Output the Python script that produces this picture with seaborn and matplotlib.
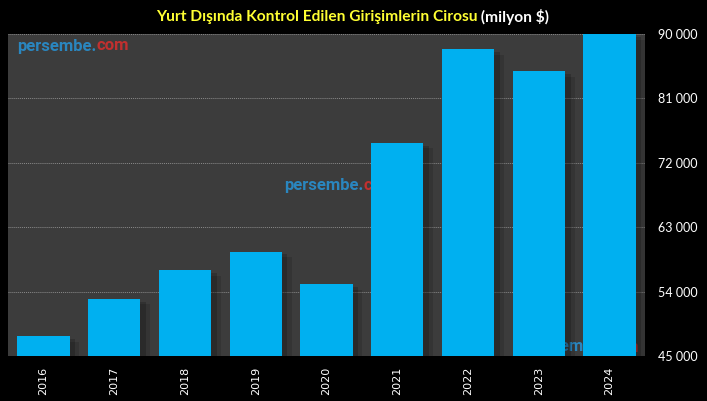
import pandas as pd
import matplotlib.pyplot as plt
import matplotlib.patheffects as pe
import seaborn as sns

years = ["2016", "2017", "2018", "2019", "2020", "2021", "2022", "2023", "2024"]
turnover = [47800, 53000, 57000, 59600, 55000, 74800, 87900, 84800, 90000]
y_ticks = [45000, 54000, 63000, 72000, 81000, 90000]

title_main = "Yurt Dışında Kontrol Edilen Girişimlerin Cirosu"
title_unit = " (milyon $)"

df = pd.DataFrame({"Yıl": years, "Ciro": turnover})

sns.set_style("dark")
plt.rcParams["font.family"] = ["DejaVu Sans"]

fig = plt.figure(figsize=(7.07, 4.01), dpi=100, facecolor="black")
ax = fig.add_axes([8 / 707, 45 / 401, 637 / 707, 322 / 401])
ax.set_facecolor("#3c3c3c")

ax = sns.barplot(data=df, x="Yıl", y="Ciro", color="#00b0f0", saturation=1,
                 width=0.74, ax=ax, zorder=3, edgecolor="none", linewidth=0)
# soft drop shadow to the right of each bar
shadow = [pe.SimplePatchShadow(offset=(7, -4), shadow_rgbFace="black", alpha=0.12),
          pe.SimplePatchShadow(offset=(4, -2), shadow_rgbFace="black", alpha=0.18),
          pe.Normal()]
for bar in ax.patches:
    bar.set_path_effects(shadow)

ax.set_ylim(45000, 90000)
ax.set_yticks(y_ticks)
ax.set_yticklabels([f"{v:,.0f}".replace(",", " ") for v in y_ticks],
                   family=["Lato", "DejaVu Sans"])
ax.yaxis.tick_right()
ax.tick_params(axis="y", colors="white", labelsize=9, length=0, pad=9)
ax.tick_params(axis="x", colors="white", labelsize=8, length=0, rotation=90, pad=8)
ax.grid(axis="y", color="#8a8a8a", linestyle=(0, (1, 1)), linewidth=0.7, zorder=1)
ax.grid(axis="x", visible=False)
ax.set_xlabel("")
ax.set_ylabel("")
for s in ax.spines.values():
    s.set_visible(False)

wm_font = ["Roboto", "DejaVu Sans"]

# watermarks (behind bars)
def watermark(x, y):
    t1 = ax.text(x, y, "persembe.", transform=ax.transAxes, fontsize=12, fontweight="bold",
                 color="#2a86bf", family=wm_font, va="center", ha="left", zorder=2)
    fig.canvas.draw()
    bb = t1.get_window_extent().transformed(ax.transAxes.inverted())
    ax.text(bb.x1, y, "com", transform=ax.transAxes, fontsize=12, fontweight="bold",
            color="#c0302f", family=wm_font, va="center", ha="left", zorder=2)

watermark(9 / 637, 1 - 12 / 322)
watermark(276 / 637, 1 - 151 / 322)
watermark(519 / 637, 1 - 313 / 322)

# two-colour title
t1 = fig.text(0.5, 1 - 17 / 401, title_main, color="#ffff33", fontsize=11.2, fontweight="bold",
              family=["Lato", "DejaVu Sans"], ha="right", va="center")
t2 = fig.text(0.5, 1 - 17 / 401, title_unit, color="white", fontsize=11.2, fontweight="bold",
              family=["Lato", "DejaVu Sans"], ha="left", va="center")
fig.canvas.draw()
w1 = t1.get_window_extent().width
w2 = t2.get_window_extent().width
shift = (w1 - w2) / 2 / fig.bbox.width
t1.set_x(0.4986 + shift)
t2.set_x(0.4986 + shift)

fig.savefig("out.png", dpi=100, facecolor="black")
